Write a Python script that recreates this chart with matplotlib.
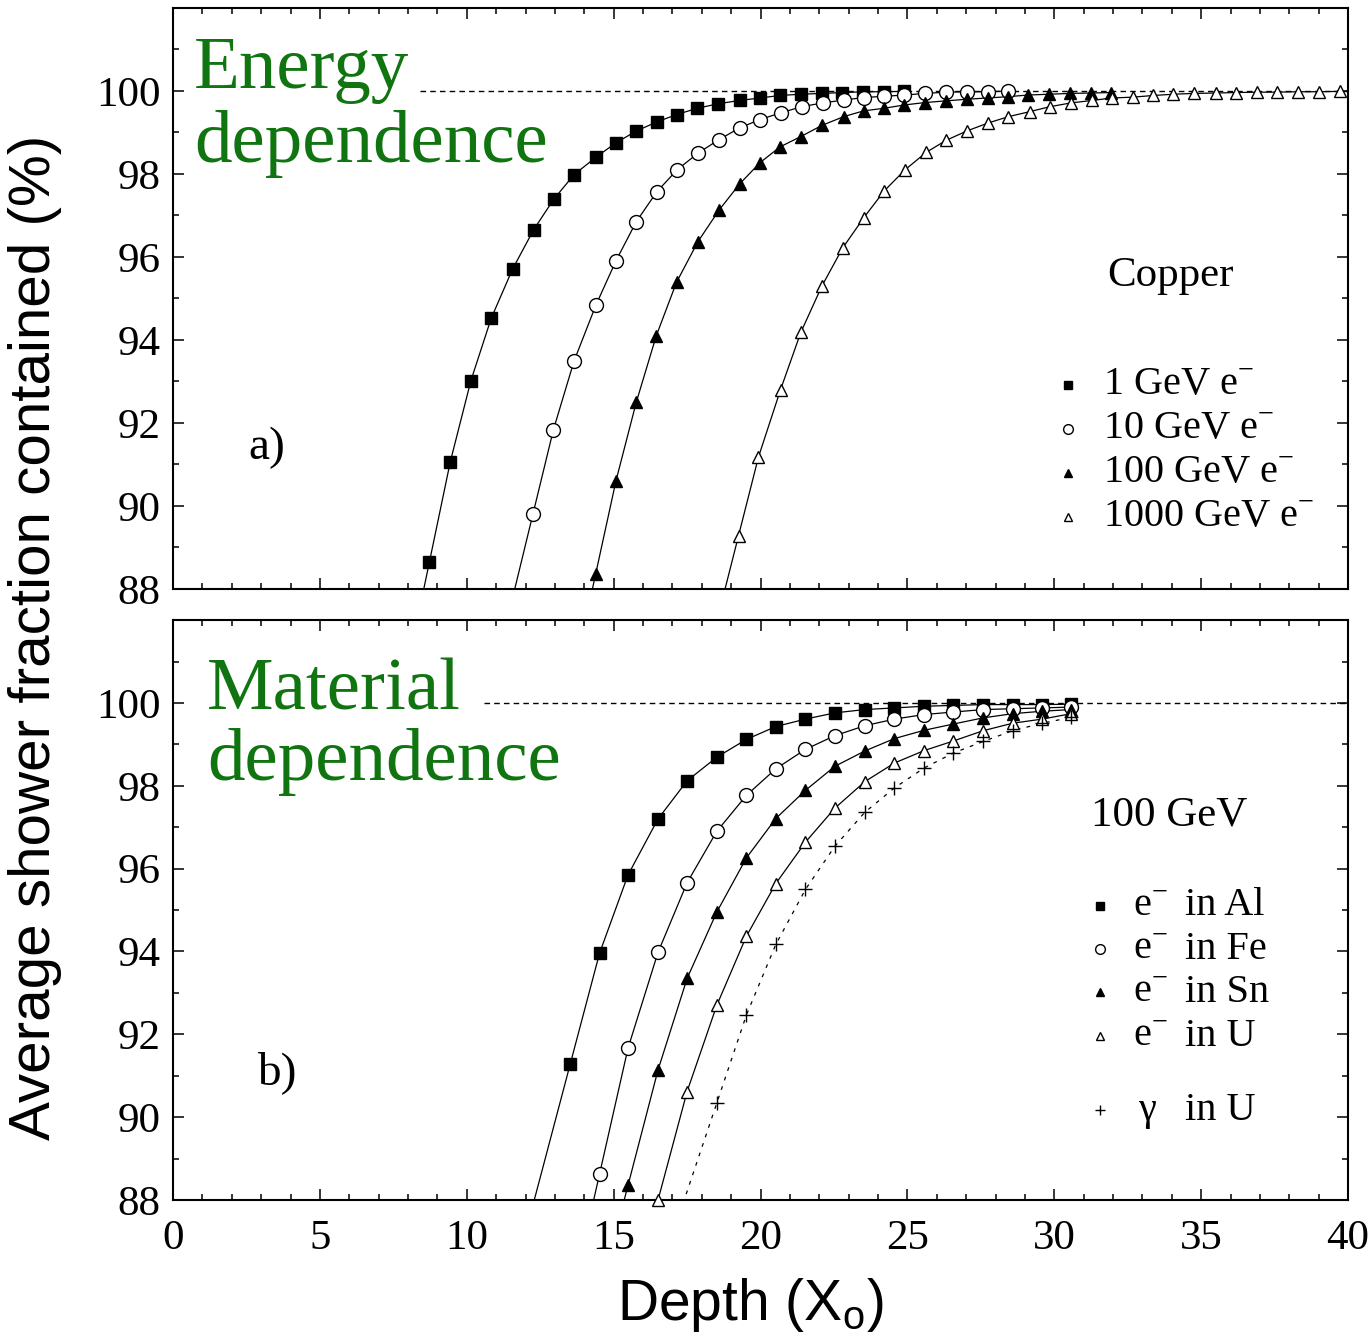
import matplotlib
matplotlib.use("Agg")
import matplotlib.pyplot as plt
from matplotlib.ticker import MultipleLocator
import numpy as np

plt.rcParams['font.family'] = ['Liberation Serif', 'DejaVu Serif']
plt.rcParams['mathtext.fontset'] = 'custom'
plt.rcParams['mathtext.rm'] = 'Liberation Serif'
plt.rcParams['mathtext.sf'] = 'Liberation Sans'

# ---- a) energy dependence in copper ----
x_1gev = [8.73, 9.44, 10.14, 10.83, 11.56, 12.28, 12.97, 13.65, 14.39, 15.08, 15.76, 16.46,
          17.14, 17.84, 18.55, 19.29, 19.98, 20.66, 21.37, 22.09, 22.79, 23.50, 24.19, 24.90]
y_1gev = [88.66, 91.07, 93.02, 94.52, 95.71, 96.66, 97.40, 97.98, 98.40, 98.75, 99.03, 99.25,
          99.43, 99.58, 99.69, 99.77, 99.83, 99.89, 99.92, 99.94, 99.96, 99.98, 99.98, 99.99]
x_10gev = [12.25, 12.95, 13.65, 14.39, 15.08, 15.77, 16.47, 17.16, 17.87, 18.57, 19.29, 19.98,
           20.68, 21.40, 22.11, 22.83, 23.51, 24.19, 24.90, 25.60, 26.33, 27.04, 27.76, 28.44]
y_10gev = [89.80, 91.84, 93.49, 94.83, 95.91, 96.85, 97.57, 98.10, 98.50, 98.82, 99.11, 99.31,
           99.47, 99.62, 99.71, 99.78, 99.84, 99.87, 99.90, 99.94, 99.97, 99.98, 99.98, 100.0]
x_100gev = [14.39, 15.08, 15.77, 16.45, 17.14, 17.87, 18.59, 19.29, 19.98, 20.66, 21.37, 22.09, 22.83,
            23.51, 24.19, 24.88, 25.60, 26.30, 27.04, 27.73, 28.41, 29.09, 29.81, 30.55, 31.26, 31.94]
y_100gev = [88.37, 90.61, 92.50, 94.10, 95.39, 96.37, 97.13, 97.76, 98.27, 98.65, 98.90, 99.17, 99.38,
            99.52, 99.58, 99.66, 99.72, 99.76, 99.80, 99.83, 99.86, 99.90, 99.92, 99.94, 99.95, 99.96]
x_1000gev = [19.25, 19.93, 20.68, 21.37, 22.09, 22.80, 23.52, 24.21, 24.92, 25.64, 26.32, 27.04,
             27.76, 28.44, 29.16, 29.85, 30.56, 31.28, 31.97, 32.68, 33.37, 34.05, 34.77, 35.49,
             36.17, 36.89, 37.57, 38.29, 39.00, 39.73]
y_1000gev = [89.28, 91.18, 92.80, 94.18, 95.30, 96.22, 96.95, 97.59, 98.10, 98.52, 98.81, 99.04,
             99.23, 99.38, 99.50, 99.62, 99.71, 99.77, 99.83, 99.85, 99.89, 99.92, 99.94, 99.95,
             99.96, 99.97, 99.97, 99.98, 99.98, 99.99]

# ---- b) material dependence at 100 GeV ----
x_al = [13.52, 14.52, 15.49, 16.51, 17.50, 18.51, 19.52, 20.52, 21.53, 22.53, 23.55, 24.56,
        25.57, 26.56, 27.58, 28.58, 29.59, 30.57]
y_al = [91.28, 93.96, 95.85, 97.20, 98.12, 98.69, 99.12, 99.43, 99.61, 99.76, 99.84, 99.88,
        99.92, 99.94, 99.96, 99.96, 99.96, 99.97]
x_fe = [14.52, 15.49, 16.51, 17.50, 18.51, 19.52, 20.52, 21.53, 22.53, 23.55, 24.56,
        25.57, 26.56, 27.58, 28.58, 29.59, 30.57]
y_fe = [88.63, 91.67, 93.98, 95.66, 96.90, 97.77, 98.41, 98.88, 99.21, 99.45, 99.61,
        99.72, 99.78, 99.84, 99.86, 99.88, 99.90]
x_sn = [15.49, 16.51, 17.50, 18.51, 19.52, 20.52, 21.53, 22.53, 23.55, 24.56,
        25.57, 26.56, 27.58, 28.58, 29.59, 30.57]
y_sn = [88.36, 91.14, 93.35, 94.95, 96.26, 97.21, 97.89, 98.47, 98.84, 99.14,
        99.34, 99.49, 99.64, 99.74, 99.80, 99.84]
x_u = [16.51, 17.50, 18.51, 19.52, 20.52, 21.53, 22.53, 23.55, 24.56,
       25.57, 26.56, 27.58, 28.58, 29.59, 30.57]
y_u = [88.00, 90.62, 92.70, 94.37, 95.64, 96.64, 97.46, 98.10, 98.55,
       98.85, 99.08, 99.33, 99.51, 99.61, 99.74]
x_gam = [18.51, 19.52, 20.52, 21.53, 22.53, 23.55, 24.56,
         25.57, 26.56, 27.58, 28.58, 29.59, 30.57]
y_gam = [90.34, 92.47, 94.17, 95.50, 96.54, 97.36, 97.95,
         98.43, 98.79, 99.07, 99.33, 99.51, 99.65]

labels_top = ["1 GeV e$^{-}$", "10 GeV e$^{-}$", "100 GeV e$^{-}$", "1000 GeV e$^{-}$"]
labels_bot = ["e$^{-}$", "e$^{-}$", "e$^{-}$", "e$^{-}$", "γ"]
materials_bot = ["in Al", "in Fe", "in Sn", "in U", "in U"]

GREEN = '#107510'

sq = dict(marker='s', ms=8, mfc='black', mec='black')
ci = dict(marker='o', ms=10, mfc='white', mec='black', mew=1.0)
tf = dict(marker='^', ms=9, mfc='black', mec='black')
to = dict(marker='^', ms=9, mfc='white', mec='black', mew=1.0)
pl = dict(marker='+', ms=10, mfc='none', mec='black', mew=1.0)


def extend(x, y, ybot=87.0):
    # continue the curve below the axis along the first segment
    x = np.asarray(x, float)
    y = np.asarray(y, float)
    slope = (x[1] - x[0]) / (y[1] - y[0])
    xb = x[0] - slope * (y[0] - ybot)
    return np.r_[xb, x], np.r_[ybot, y]


def draw(ax, x, y, style, ls='-'):
    xe, ye = extend(x, y)
    ax.plot(xe, ye, color='black', lw=0.9, ls=ls, zorder=2)
    ax.plot(x, y, ls='none', zorder=3, clip_on=False, **style)


def style_axes(ax, show_x):
    ax.set_xlim(0, 40)
    ax.set_ylim(88, 102)
    ax.xaxis.set_major_locator(MultipleLocator(5))
    ax.xaxis.set_minor_locator(MultipleLocator(1))
    ax.set_yticks([88, 90, 92, 94, 96, 98, 100])
    ax.yaxis.set_minor_locator(MultipleLocator(1))
    ax.tick_params(which='both', direction='in', top=True, right=True, width=1.1)
    ax.tick_params(which='major', length=8)
    ax.tick_params(which='minor', length=4)
    ax.tick_params(axis='y', labelsize=31, pad=9)
    ax.tick_params(axis='x', labelsize=31, pad=14, labelbottom=show_x)
    for s in ax.spines.values():
        s.set_linewidth(1.5)


fig = plt.figure(figsize=(13.68, 13.41), dpi=100)
ax1 = fig.add_axes([0.1265, 0.5608, 0.8589, 0.4333])
ax2 = fig.add_axes([0.1265, 0.1051, 0.8589, 0.4325])

# top panel
style_axes(ax1, False)
ax1.hlines(100, 8.4, 40, colors='black', lw=1.0, linestyles=(0, (4, 3)), zorder=1)
for x, y, st in [(x_1gev, y_1gev, sq), (x_10gev, y_10gev, ci),
                 (x_100gev, y_100gev, tf), (x_1000gev, y_1000gev, to)]:
    draw(ax1, x, y, st)
ax1.text(0.72, 100.07, "Energy", color=GREEN, fontsize=54, va='baseline')
ax1.text(0.72, 98.29, "dependence", color=GREEN, fontsize=54, va='baseline')
ax1.text(3.2, 91.4, "a)", fontsize=34, ha='center', va='center')
ax1.text(33.94, 95.55, "Copper", fontsize=31, ha='center', va='center')
for i, (lab, st) in enumerate(zip(labels_top, [sq, ci, tf, to])):
    yy = 92.92 - 1.06 * i
    small = dict(st)
    small['ms'] = st['ms'] * 0.7
    ax1.plot([30.46], [yy], ls='none', **small)
    ax1.text(31.65, yy, lab, fontsize=29, va='center')

# bottom panel
style_axes(ax2, True)
ax2.hlines(100, 10.6, 40, colors='black', lw=1.0, linestyles=(0, (4, 3)), zorder=1)
for x, y, st in [(x_al, y_al, sq), (x_fe, y_fe, ci), (x_sn, y_sn, tf), (x_u, y_u, to)]:
    draw(ax2, x, y, st)
draw(ax2, x_gam, y_gam, pl, ls=(0, (3, 5)))
ax2.text(1.16, 99.83, "Material", color=GREEN, fontsize=54, va='baseline')
ax2.text(1.16, 98.14, "dependence", color=GREEN, fontsize=54, va='baseline')
ax2.text(3.54, 91.07, "b)", fontsize=34, ha='center', va='center')
ax2.text(33.9, 97.3, "100 GeV", fontsize=31, ha='center', va='center')
rows_y = [95.10, 94.06, 93.02, 91.96, 90.17]
for lab, mat, st, yy in zip(labels_bot, materials_bot, [sq, ci, tf, to, pl], rows_y):
    small = dict(st)
    small['ms'] = st['ms'] * 0.7
    ax2.plot([31.55], [yy], ls='none', **small)
    ax2.text(32.67 if lab != "γ" else 32.9, yy, lab, fontsize=29, va='center')
    ax2.text(34.45, yy, mat, fontsize=29, va='center')

fig.text(35 / 1368, 1 - 637 / 1341, "Average shower fraction contained (%)",
         family='Liberation Sans', fontsize=42, rotation=90, ha='center', va='center')
fig.text(750 / 1368, 1 - 1305 / 1341, r"Depth (X$_{\mathsf{o}}$)",
         family='Liberation Sans', fontsize=41, ha='center', va='center')

fig.savefig("out.png", dpi=100)
